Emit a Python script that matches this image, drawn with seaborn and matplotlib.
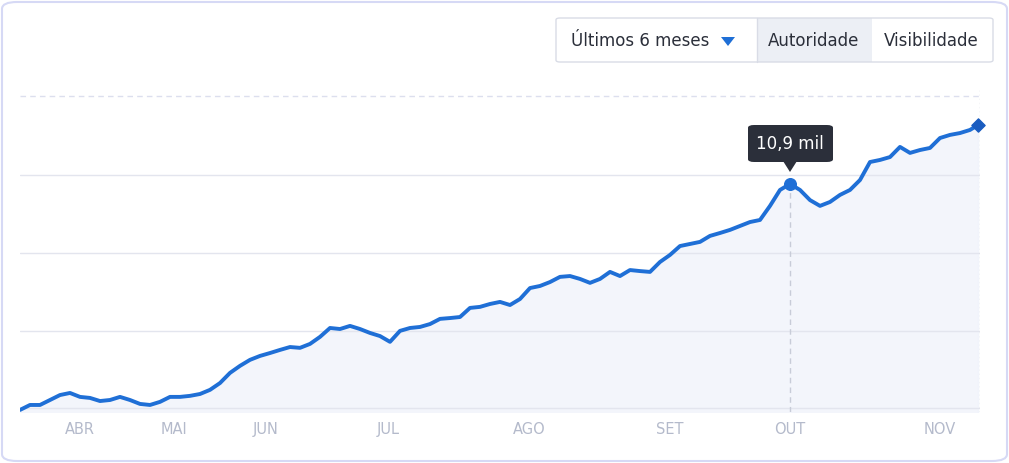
import numpy as np
import matplotlib
matplotlib.use("Agg")
from matplotlib import pyplot as plt
from matplotlib.patches import FancyBboxPatch, Rectangle, Polygon
import seaborn as sns

# authority score, thousands
values = [0, 0.24, 0.24, 0.48, 0.72, 0.82, 0.63, 0.58, 0.43, 0.48, 0.63, 0.48, 0.29, 0.24, 0.39,
          0.63, 0.63, 0.68, 0.77, 0.97, 1.30, 1.79, 2.13, 2.42, 2.61, 2.75, 2.90, 3.04, 3.00, 3.19,
          3.53, 3.96, 3.91, 4.06, 3.91, 3.72, 3.57, 3.29, 3.82, 3.96, 4.01, 4.15, 4.40, 4.44, 4.49,
          4.93, 4.98, 5.12, 5.22, 5.07, 5.36, 5.89, 5.99, 6.18, 6.43, 6.47, 6.33, 6.14, 6.33, 6.67,
          6.47, 6.76, 6.71, 6.67, 7.15, 7.49, 7.92, 8.02, 8.12, 8.41, 8.55, 8.70, 8.89, 9.08, 9.18,
          9.86, 10.63, 10.92, 10.63, 10.14, 9.86, 10.05, 10.39, 10.63, 11.11, 11.98, 12.08, 12.22,
          12.71, 12.42, 12.56, 12.66, 13.14, 13.29, 13.38, 13.53, 13.77]
month_labels = ["ABR", "MAI", "JUN", "JUL", "AGO", "SET", "OUT", "NOV"]
month_pos = [60, 154, 246, 368, 509, 650, 770, 920]
grid_vals = [0.1, 3.82, 7.58, 11.35]
top_val = 15.17
peak_idx = 77

x = np.arange(len(values)) * 10.0
x[-1] = 958

W, H = 1009, 463
fig = plt.figure(figsize=(W / 100, H / 100), dpi=100)
fig.patch.set_facecolor("white")

# outer card border
fig.patches.append(FancyBboxPatch((2 / W, 2 / H), (W - 4) / W, (H - 4) / H,
                                  boxstyle="round,pad=0,rounding_size=0.015",
                                  transform=fig.transFigure, fill=False,
                                  ec="#d6d9f5", lw=1.5))

ax = fig.add_axes([20 / W, (H - 412) / H, 960 / W, 322 / H])
sns.set_style("white")
blue = "#1f6fd6"
sns.lineplot(x=x, y=values, ax=ax, color=blue, lw=2.8,
             solid_capstyle="round", solid_joinstyle="round")
ax.fill_between(x, values, -1, color="#f0f3fb", alpha=0.8, zorder=0)
for g in grid_vals:
    ax.axhline(g, color="#e3e5ee", lw=1, zorder=0)
ax.axhline(top_val, color="#dcdfee", lw=1, ls=(0, (4, 3)), zorder=0)
ax.set_xlim(0, 960)
ax.set_ylim(-0.1, 15.46)
ax.axis("off")

ax.vlines(x[peak_idx], -0.1, values[peak_idx], color="#c8ccd8", lw=1, ls=(0, (4, 3)))
ax.vlines(960, -0.1, 15.46, color="#d0d3e0", lw=1, ls=(0, (1, 2)))
ax.scatter([x[peak_idx]], [values[peak_idx]], s=70, color=blue, zorder=5)
ax.scatter([x[-1]], [values[-1]], s=45, marker="D", color="#1a5cc0", zorder=5, clip_on=False)

for lbl, p in zip(month_labels, month_pos):
    ax.text(p, -0.6, lbl, ha="center", va="top", fontsize=10.5, color="#b4bacb")

# tooltip
fig.patches.append(FancyBboxPatch((748 / W, (H - 162) / H), 85 / W, 37 / H,
                                  boxstyle="round,pad=0,rounding_size=0.006",
                                  transform=fig.transFigure, fc="#2b2f3a", ec="none"))
fig.patches.append(Polygon([(783 / W, (H - 161) / H), (797 / W, (H - 161) / H), (790 / W, (H - 172) / H)],
                           closed=True, transform=fig.transFigure, fc="#2b2f3a", ec="none"))
fig.text(790 / W, (H - 144) / H, "10,9 mil", ha="center", va="center", color="white", fontsize=12)

# controls
fig.patches.append(Rectangle((757 / W, (H - 62) / H), 115 / W, 44 / H,
                             transform=fig.transFigure, fc="#eceff5", ec="none"))
fig.patches.append(FancyBboxPatch((556 / W, (H - 62) / H), 437 / W, 44 / H,
                                  boxstyle="round,pad=0,rounding_size=0.004",
                                  transform=fig.transFigure, fill=False, ec="#d9dce6", lw=1))
fig.add_artist(plt.Line2D([757 / W, 757 / W], [(H - 62) / H, (H - 18) / H], color="#d9dce6", lw=1))
fig.text(571 / W, (H - 41) / H, "Últimos 6 meses", ha="left", va="center", fontsize=12, color="#2b2f3a")
fig.patches.append(Polygon([(721 / W, (H - 37) / H), (735 / W, (H - 37) / H), (728 / W, (H - 46) / H)],
                           closed=True, transform=fig.transFigure, fc=blue, ec="none"))
fig.text(814 / W, (H - 41) / H, "Autoridade", ha="center", va="center", fontsize=12, color="#2b2f3a")
fig.text(931 / W, (H - 41) / H, "Visibilidade", ha="center", va="center", fontsize=12, color="#2b2f3a")

fig.savefig("out.png", dpi=100)
